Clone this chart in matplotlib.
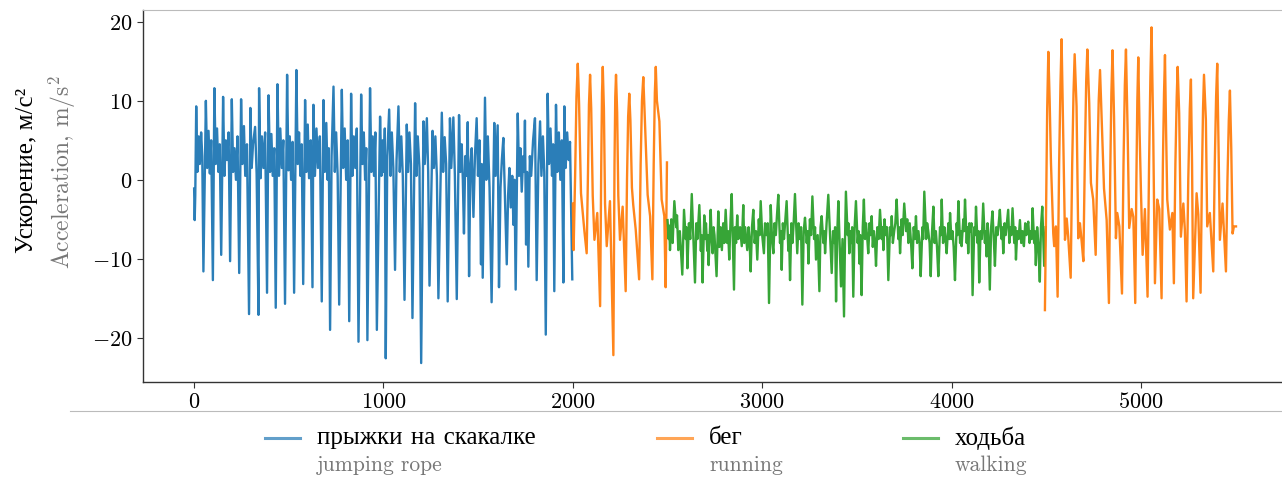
import numpy as np
from matplotlib import pyplot as plt
from matplotlib.lines import Line2D

plt.rcParams['font.family'] = ['cmr10', 'Liberation Serif']
plt.rcParams['mathtext.fontset'] = 'cm'
plt.rcParams['axes.formatter.use_mathtext'] = True
plt.rcParams['axes.unicode_minus'] = False

# (sample index, acceleration m/s^2)
jump = [
    (0, -1.1), (3, -5.1), (6, -2.0), (11, 9.3), (17, 1.0), (24, 5.5), (30, 2.0), (37, 6.0), (43, 3.0),
    (49, -11.6), (62, 10.0), (69, 1.5), (76, 6.2), (83, 0.8), (90, 5.0),
    (99, -12.7), (107, 11.6), (114, 2.0), (121, 6.5), (128, 1.0), (135, 4.5),
    (143, -9.5), (153, 10.5), (160, 0.5), (167, 5.0), (174, 2.5), (182, 6.0),
    (190, -10.3), (199, 10.2), (206, 1.0), (213, 4.0), (221, 0.0), (229, 5.5),
    (238, -11.8), (248, 10.2), (255, 2.0), (263, 6.8), (270, 0.5), (279, 4.5),
    (290, -17.0), (297, 9.1), (304, 1.5), (311, 4.5), (322, 6.7), (330, 0.8),
    (340, -17.1), (343, 11.6), (351, 0.2), (358, 5.5), (366, 1.5), (375, 6.0),
    (385, -14.3), (393, 10.7), (401, 1.0), (408, 5.8), (415, 0.5), (423, 4.0),
    (431, -16.2), (440, 12.1), (448, 0.5), (455, 6.5), (463, 1.5), (471, 5.0),
    (480, -15.7), (491, 13.3), (498, 1.2), (505, 5.5), (512, 0.0), (520, 4.8),
    (528, -14.3), (540, 13.9), (547, 2.0), (554, 6.0), (561, 0.5), (568, 4.5),
    (576, -13.2), (586, 10.1), (593, 1.0), (600, 7.0), (607, 0.2), (616, 5.0),
    (625, -13.6), (630, 9.5), (638, 0.5), (646, 6.5), (654, 1.5), (664, 5.5),
    (674, -15.4), (683, 10.1), (690, 1.0), (698, 7.2), (705, 0.0), (711, 4.0),
    (718, -19.0), (726, 3.0), (736, 11.8), (743, 1.0), (750, 6.0), (758, 0.5),
    (766, -15.8), (780, 11.4), (787, 1.5), (795, 6.5), (803, 0.0), (811, 5.0),
    (819, -17.9), (829, 10.9), (836, 0.5), (843, 5.5), (851, 1.5), (859, 6.5),
    (868, -20.5), (882, 10.8), (889, 2.0), (896, 6.0), (903, 0.0), (909, 4.0),
    (915, -20.3), (929, 11.6), (936, 1.0), (943, 5.5), (950, 0.5), (957, 6.0),
    (965, -19.0), (982, 8.0), (989, 0.5), (996, 5.0), (1003, 1.0), (1007, 6.5),
    (1012, -22.6), (1020, 3.0), (1030, 8.9), (1037, 0.5), (1044, 6.0), (1052, 1.5),
    (1061, -11.4), (1069, 2.5), (1079, 9.3), (1086, 1.0), (1094, 5.5), (1102, 0.5),
    (1111, -15.2), (1123, 7.0), (1130, 1.0), (1137, 6.0), (1145, 2.0),
    (1153, -17.5), (1167, 9.7), (1174, 0.5), (1181, 5.5), (1190, 1.5),
    (1199, -23.2), (1211, 7.4), (1218, 2.0), (1229, 7.8), (1236, 1.0),
    (1243, -13.4), (1259, 6.2), (1266, 1.5), (1274, 5.5), (1282, 0.5),
    (1290, -15.0), (1308, 8.5), (1315, 1.0), (1323, 5.4), (1331, 2.0),
    (1339, -15.4), (1351, 7.8), (1358, 1.5), (1369, 7.9), (1377, 0.5),
    (1387, -15.1), (1399, 8.2), (1406, 1.0), (1413, 4.5), (1419, 0.0),
    (1425, -6.8), (1432, 3.0), (1438, 0.5), (1445, 7.3),
    (1452, -12.2), (1459, 2.0), (1466, 4.0),
    (1475, -4.7), (1483, 3.0), (1492, 7.8), (1499, 0.5), (1507, 5.0),
    (1515, -10.7), (1519, 2.0), (1524, -12.4), (1536, 10.4), (1543, 0.0), (1551, 5.5), (1560, -1.0),
    (1571, -15.5), (1585, 7.2), (1592, 0.5), (1603, 6.9),
    (1610, -13.6), (1618, -1.0), (1625, 2.5), (1633, 5.3), (1641, -2.0),
    (1651, -10.7), (1658, -2.0), (1665, 1.5), (1672, -3.5), (1680, 0.5), (1686, -5.7), (1692, 0.0),
    (1698, -13.9), (1709, 8.4), (1716, 0.5), (1723, 4.0), (1730, -1.5), (1738, 3.0),
    (1743, 1.0), (1747, 7.5), (1753, -8.2), (1758, 1.0), (1765, -11.0), (1773, 3.0), (1780, 0.5),
    (1790, 5.0), (1800, 7.8),
    (1809, -12.7), (1818, 2.0), (1827, 7.4), (1834, 0.5), (1842, 5.5), (1849, 1.0),
    (1857, -19.6), (1867, 10.9), (1874, 2.0), (1882, 6.5), (1890, 0.5), (1896, 4.5),
    (1902, -14.1), (1911, 9.5), (1918, 1.0), (1926, 6.0), (1934, 0.0), (1942, 5.0),
    (1950, -13.0), (1955, 9.3), (1962, 1.5), (1970, 6.0), (1978, 2.5), (1985, 4.8), (1997, -12.6),
]

run_1 = [
    (2000, -3.0), (2004, -8.9), (2012, 0.5), (2019, 10.5), (2026, 14.7), (2030, 12.0), (2033, 9.5),
    (2043, -1.7), (2061, -6.5), (2073, -9.3), (2080, 1.0), (2085, 9.5), (2091, 13.3), (2097, 9.0),
    (2105, -2.0), (2114, -7.6), (2129, -4.2), (2144, -16.0), (2150, 2.0), (2154, 11.0), (2158, 14.3),
    (2164, 9.0), (2170, -3.0), (2179, -8.4), (2196, -2.7), (2214, -22.2), (2220, 2.0), (2224, 10.5),
    (2228, 13.3), (2234, 8.5), (2240, -2.0), (2249, -7.6), (2263, -3.4), (2279, -14.1), (2286, 0.0),
    (2292, 8.0), (2298, 10.9), (2304, 7.5), (2312, -1.0), (2319, -3.2), (2332, -6.3), (2350, -12.6),
    (2358, 2.0), (2365, 10.0), (2372, 13.0), (2379, 8.5), (2395, -1.9), (2408, -4.6), (2420, -12.6),
    (2427, 2.0), (2433, 11.0), (2438, 14.3), (2444, 10.0), (2457, 7.4), (2469, -2.5), (2483, -4.6),
    (2490, -13.6), (2497, 2.2),
]

walk = [
    (2500, -5.1), (2506, -7.5), (2509, -5.8), (2513, -8.9), (2520, -5.0), (2527, -8.0), (2536, -2.7),
    (2546, -6.0), (2550, -4.5), (2557, -8.9), (2565, -6.5), (2571, -9.0), (2578, -12.0), (2587, -3.8),
    (2596, -7.5), (2600, -6.0), (2605, -11.2), (2613, -5.5), (2620, -7.5), (2628, -1.8), (2636, -7.0),
    (2645, -13.0), (2652, -5.5), (2658, -7.5), (2668, -3.2), (2676, -9.0), (2680, -7.0), (2685, -13.0),
    (2694, -4.5), (2699, -7.5), (2703, -5.5), (2710, -9.0), (2713, -7.0), (2717, -10.8), (2728, -3.8),
    (2733, -7.5), (2738, -9.3), (2743, -6.0), (2748, -7.0), (2759, -12.2), (2768, -4.0), (2774, -8.5),
    (2780, -6.0), (2787, -8.9), (2794, -5.5), (2800, -8.0), (2807, -3.8), (2815, -8.0), (2820, -6.5),
    (2826, -10.1), (2833, -5.0), (2839, -1.8), (2851, -13.9), (2856, -6.0), (2862, -8.0), (2868, -4.5),
    (2874, -7.5), (2883, -6.0), (2892, -8.4), (2900, -3.2), (2905, -8.0), (2910, -6.0), (2921, -8.9),
    (2928, -6.0), (2933, -7.5), (2939, -11.6), (2946, -6.0), (2953, -3.8), (2960, -8.0), (2967, -6.5),
    (2974, -10.1), (2982, -5.0), (2987, -7.0), (2992, -2.7), (3000, -7.0), (3009, -9.3), (3015, -5.5),
    (3022, -7.0), (3029, -5.5), (3036, -15.6), (3045, -3.2), (3052, -7.5), (3059, -9.3), (3065, -5.5),
    (3072, -7.0), (3078, -4.5), (3085, -1.9), (3094, -8.0), (3098, -6.5), (3103, -11.4), (3109, -5.5),
    (3115, -7.5), (3122, -5.0), (3129, -2.7), (3138, -9.0), (3142, -7.0), (3147, -12.7), (3154, -5.5),
    (3160, -8.0), (3166, -5.5), (3173, -1.8), (3185, -9.3), (3192, -5.5), (3198, -7.5), (3205, -6.0),
    (3212, -15.8), (3219, -6.5), (3226, -4.8), (3235, -8.0), (3240, -6.5), (3244, -10.6), (3252, -5.0),
    (3258, -7.0), (3265, -2.1), (3274, -7.5), (3279, -6.0), (3284, -10.1), (3293, -7.0), (3302, -14.1),
    (3308, -6.0), (3314, -4.6), (3323, -8.0), (3328, -6.5), (3332, -9.3), (3340, -5.5), (3349, -1.9),
    (3358, -7.0), (3367, -11.8), (3374, -6.5), (3380, -8.0), (3385, -6.0), (3390, -15.4), (3396, -7.0),
    (3402, -2.7), (3409, -8.0), (3416, -13.5), (3424, -7.5), (3432, -17.3), (3437, -8.0), (3442, -1.5),
    (3451, -7.0), (3455, -5.5), (3460, -9.3), (3465, -6.5), (3470, -8.0), (3475, -6.0), (3481, -14.8),
    (3488, -6.0), (3495, -2.7), (3504, -8.0), (3509, -6.5), (3513, -10.6), (3518, -7.0), (3525, -14.6),
    (3531, -6.0), (3537, -2.5), (3543, -7.5), (3548, -5.5), (3555, -7.5), (3560, -9.3), (3567, -5.5),
    (3572, -7.0), (3578, -4.6), (3584, -8.5), (3590, -6.5), (3596, -8.0), (3601, -10.9), (3608, -6.0),
    (3615, -7.5), (3622, -3.8), (3631, -7.5), (3635, -6.0), (3640, -8.9), (3646, -5.0), (3652, -7.0),
    (3659, -6.0), (3666, -12.7), (3675, -6.0), (3680, -7.0), (3684, -4.6), (3690, -8.0), (3697, -6.5),
    (3703, -5.5), (3710, -2.5), (3719, -7.5), (3723, -6.0), (3728, -9.3), (3736, -5.0), (3742, -7.0),
    (3750, -3.0), (3760, -6.5), (3766, -5.0), (3772, -8.0), (3779, -5.5), (3786, -8.0), (3793, -11.2),
    (3800, -6.0), (3806, -7.5), (3812, -4.6), (3818, -8.0), (3825, -6.5), (3831, -8.0), (3837, -12.2),
    (3846, -6.0), (3850, -7.5), (3856, -1.5), (3866, -7.5), (3871, -5.5), (3877, -6.5), (3884, -8.0),
    (3890, -12.2), (3897, -6.5), (3904, -3.4), (3910, -8.0), (3917, -6.5), (3923, -8.5), (3930, -12.2),
    (3939, -6.0), (3944, -7.0), (3948, -2.5), (3955, -8.0), (3962, -6.0), (3968, -7.5), (3974, -9.3),
    (3983, -5.5), (3988, -7.5), (3992, -4.2), (3999, -7.5), (4005, -6.5), (4011, -8.5), (4018, -12.7),
    (4027, -5.5), (4031, -7.0), (4036, -2.7), (4045, -8.0), (4049, -6.5), (4053, -8.4), (4062, -5.0),
    (4066, -6.5), (4071, -2.5), (4080, -8.0), (4084, -6.0), (4088, -9.3), (4094, -5.5), (4100, -6.5),
    (4105, -5.5), (4111, -14.6), (4120, -6.0), (4125, -7.0), (4129, -3.4), (4137, -8.0), (4141, -6.5),
    (4146, -13.0), (4153, -6.5), (4160, -7.5), (4167, -3.0), (4176, -8.0), (4180, -6.5), (4185, -9.7),
    (4190, -5.5), (4195, -7.0), (4202, -13.9), (4209, -6.0), (4216, -4.0), (4223, -7.5), (4229, -10.9),
    (4236, -6.0), (4243, -7.0), (4249, -5.5), (4255, -3.8), (4264, -7.5), (4268, -6.0), (4273, -9.3),
    (4280, -5.5), (4286, -7.0), (4292, -5.5), (4299, -3.8), (4305, -8.0), (4310, -6.0), (4316, -7.0),
    (4322, -3.6), (4331, -8.0), (4336, -6.0), (4340, -10.1), (4347, -6.5), (4354, -7.5), (4361, -5.1),
    (4368, -8.0), (4375, -6.5), (4382, -8.4), (4389, -5.5), (4395, -7.0), (4400, -6.0), (4405, -5.3),
    (4412, -8.0), (4418, -6.5), (4423, -7.5), (4428, -3.6), (4436, -8.0), (4440, -6.5), (4445, -10.8),
    (4452, -6.0), (4458, -8.0), (4466, -12.9), (4472, -6.0), (4479, -3.4), (4489, -10.9), (4497, -6.0),
]

run_2 = [
    (4493, -16.5), (4500, -2.0), (4505, 9.0), (4511, 16.2), (4518, 10.0), (4525, 2.1), (4537, -6.8),
    (4542, -8.4), (4551, -5.9), (4560, -14.8), (4568, 2.0), (4575, 12.0), (4581, 17.8), (4588, 8.0),
    (4599, -7.6), (4608, -4.9), (4616, -7.2), (4629, -12.4), (4637, 2.0), (4644, 11.0), (4650, 15.9),
    (4660, 9.3), (4669, -7.4), (4678, -5.5), (4687, -7.8), (4696, -10.3), (4704, 3.0), (4711, 12.5),
    (4717, 16.5), (4727, 9.7), (4736, -0.4), (4748, -2.5), (4761, -9.5), (4769, 1.0), (4777, 10.0),
    (4784, 13.9), (4792, 8.2), (4805, -1.1), (4819, -5.1), (4831, -15.6), (4838, 1.0), (4844, 11.0),
    (4850, 16.4), (4858, 8.0), (4868, -7.4), (4875, -4.2), (4886, -5.9), (4900, -14.4), (4908, 2.0),
    (4915, 12.0), (4921, 16.5), (4930, 5.9), (4938, -6.1), (4951, -3.7), (4960, -4.7), (4970, -15.6),
    (4976, 0.0), (4981, 10.0), (4986, 15.5), (4993, 6.0), (5000, -1.3), (5009, -9.5), (5021, -3.7),
    (5035, -14.8), (5043, 2.0), (5050, 13.0), (5056, 19.3), (5065, 5.9), (5074, -13.1), (5086, -2.5),
    (5097, -3.7), (5109, -15.0), (5116, 2.0), (5122, 11.0), (5127, 15.8), (5133, 6.0), (5139, -2.5),
    (5153, -6.3), (5166, -4.2), (5174, -13.1), (5182, 2.0), (5189, 10.5), (5194, 14.3), (5202, 8.4),
    (5211, -7.2), (5224, -3.0), (5232, -6.3), (5241, -15.4), (5250, 0.0), (5258, 9.0), (5264, 12.7),
    (5270, 2.0), (5276, -15.0), (5294, -1.7), (5303, -4.4), (5315, -14.3), (5322, 0.0), (5328, 9.0),
    (5333, 13.3), (5343, 7.6), (5350, -5.9), (5364, -4.2), (5382, -11.6), (5390, 2.0), (5397, 10.5),
    (5403, 14.7), (5410, 4.0), (5417, -7.6), (5431, -3.0), (5449, -11.6), (5457, 0.0), (5464, 7.5),
    (5470, 11.3), (5477, 4.0), (5484, -6.8), (5491, -5.9), (5502, -5.9),
]

labels_ru = ['прыжки на скакалке', 'бег', 'ходьба']
labels_en = ['jumping rope', 'running', 'walking']
colors = ['#1f77b4', '#ff7f0e', '#2ca02c']

W, H = 1282, 479
fig = plt.figure(figsize=(W / 100, H / 100), dpi=100)
ax = fig.add_axes([143 / W, 1 - 382 / H, (W - 143) / W, 372 / H])

for data, color in [(jump, colors[0]), (run_1, colors[1]), (walk, colors[2]), (run_2, colors[1])]:
    x, y = np.array(data).T
    ax.plot(x, y, color=color, lw=1.7, alpha=0.95)

ax.set_xlim(-270, 5745)
ax.set_ylim(-25.6, 21.5)
ax.set_xticks([0, 1000, 2000, 3000, 4000, 5000])
ax.set_yticks([-20, -10, 0, 10, 20])
ax.tick_params(labelsize=16, length=4, width=0.8, color='#333333')

ax.spines['right'].set_visible(False)
ax.spines['top'].set_color('#bbbbbb')
ax.spines['top'].set_linewidth(0.8)
for s in ['left', 'bottom']:
    ax.spines[s].set_color('#333333')
    ax.spines[s].set_linewidth(1.0)

# two-language y label (cmr10 has no cyrillic, so the russian one uses a serif with it)
fig.text(27 / W, 1 - 170 / H, 'Ускорение, м/с²', rotation=90, ha='center', va='center',
         fontsize=18, color='black', family=['Liberation Serif'])
fig.text(62 / W, 1 - 172 / H, 'Acceleration, m/s$^2$', rotation=90, ha='center', va='center',
         fontsize=17, color='#777777')

# separator above the legend
fig.add_artist(Line2D([70 / W, 1], [1 - 411 / H, 1 - 411 / H], color='#bbbbbb', lw=0.8))

# legend drawn by hand: russian label on top, english in gray below
handle_x = [265, 657, 903]
for hx, color, ru, en in zip(handle_x, colors, labels_ru, labels_en):
    fig.add_artist(Line2D([hx / W, (hx + 35) / W], [1 - 438 / H, 1 - 438 / H], color=color, lw=2.2, alpha=0.7))
    fig.text((hx + 52) / W, 1 - 438 / H, ru, ha='left', va='center', fontsize=18, color='black')
    fig.text((hx + 52) / W, 1 - 465 / H, en, ha='left', va='center', fontsize=15.5, color='#777777')

fig.savefig('out.png', dpi=100)
